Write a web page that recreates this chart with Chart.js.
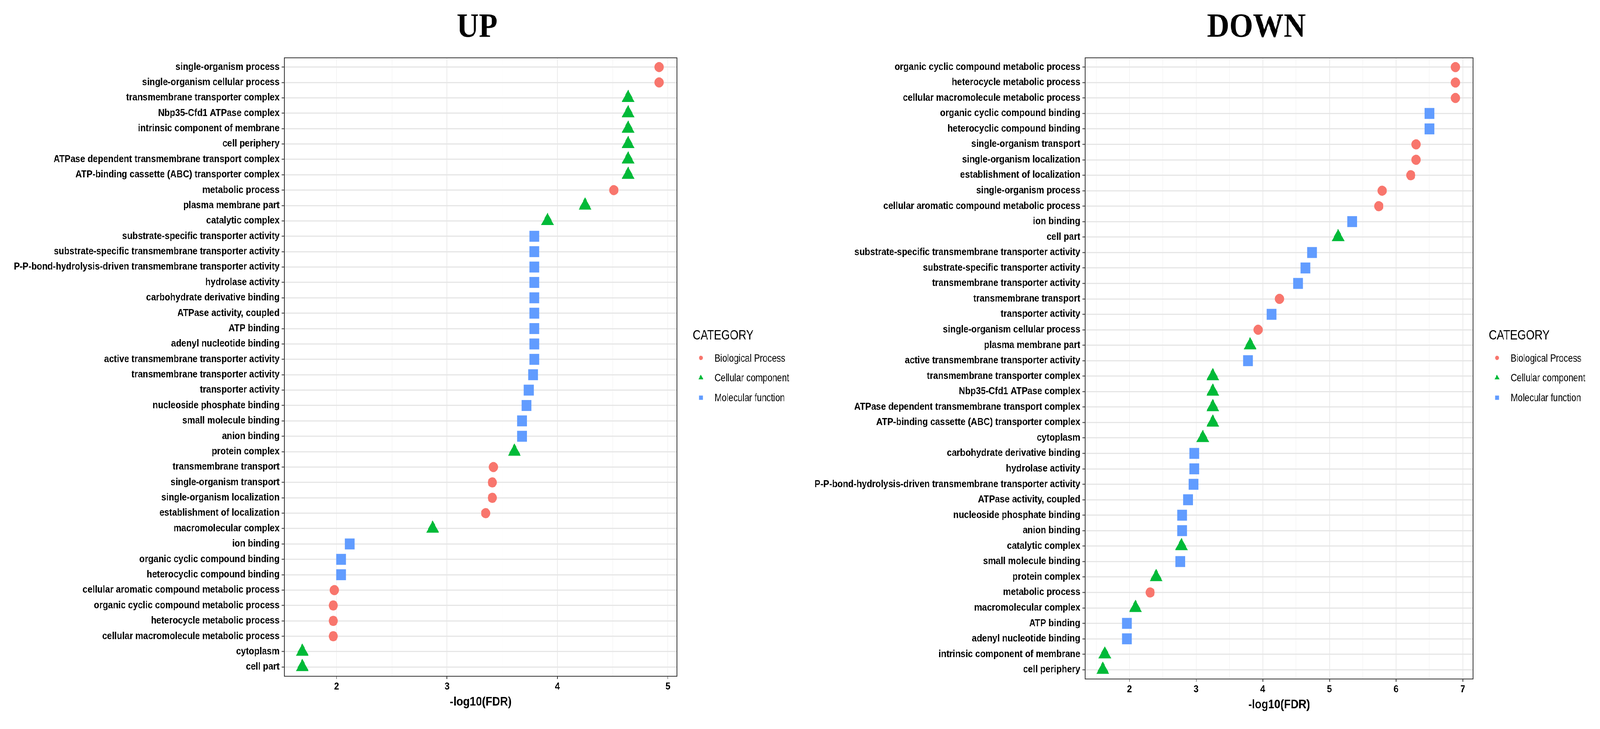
<!DOCTYPE html>
<html>
<head>
<meta charset="utf-8">
<script src="https://cdn.jsdelivr.net/npm/chart.js@4.4.1/dist/chart.umd.min.js"></script>
<style>
  html, body { margin: 0; padding: 0; background: #ffffff; overflow: hidden; }
  #wrap { position: absolute; left: 0; top: 0; width: 4550px; height: 1866px; transform-origin: 0 0; }
  #up { position: absolute; left: 0; top: 0; }
  #down { position: absolute; left: 2275px; top: 0; }
</style>
</head>
<body>
<div id="wrap">
  <canvas id="up" width="2275" height="1866"></canvas>
  <canvas id="down" width="2275" height="1866"></canvas>
</div>
<script>
// ---------------- DATA ----------------
const categoryKeys   = ['BP', 'CC', 'MF'];
const categoryLabels = ['Biological Process', 'Cellular component', 'Molecular function'];

const upTerms = [
  'single-organism process',
  'single-organism cellular process',
  'transmembrane transporter complex',
  'Nbp35-Cfd1 ATPase complex',
  'intrinsic component of membrane',
  'cell periphery',
  'ATPase dependent transmembrane transport complex',
  'ATP-binding cassette (ABC) transporter complex',
  'metabolic process',
  'plasma membrane part',
  'catalytic complex',
  'substrate-specific transporter activity',
  'substrate-specific transmembrane transporter activity',
  'P-P-bond-hydrolysis-driven transmembrane transporter activity',
  'hydrolase activity',
  'carbohydrate derivative binding',
  'ATPase activity, coupled',
  'ATP binding',
  'adenyl nucleotide binding',
  'active transmembrane transporter activity',
  'transmembrane transporter activity',
  'transporter activity',
  'nucleoside phosphate binding',
  'small molecule binding',
  'anion binding',
  'protein complex',
  'transmembrane transport',
  'single-organism transport',
  'single-organism localization',
  'establishment of localization',
  'macromolecular complex',
  'ion binding',
  'organic cyclic compound binding',
  'heterocyclic compound binding',
  'cellular aromatic compound metabolic process',
  'organic cyclic compound metabolic process',
  'heterocycle metabolic process',
  'cellular macromolecule metabolic process',
  'cytoplasm',
  'cell part'
];
const upValues = [
  4.92, 4.92, 4.64, 4.64, 4.64, 4.64, 4.64, 4.64, 4.51, 4.25,
  3.91, 3.79, 3.79, 3.79, 3.79, 3.79, 3.79, 3.79, 3.79, 3.79,
  3.78, 3.74, 3.72, 3.68, 3.68, 3.61, 3.42, 3.41, 3.41, 3.35,
  2.87, 2.12, 2.04, 2.04, 1.98, 1.97, 1.97, 1.97, 1.69, 1.69
];
const upTypes = [
  'BP','BP','CC','CC','CC','CC','CC','CC','BP','CC',
  'CC','MF','MF','MF','MF','MF','MF','MF','MF','MF',
  'MF','MF','MF','MF','MF','CC','BP','BP','BP','BP',
  'CC','MF','MF','MF','BP','BP','BP','BP','CC','CC'
];

const downTerms = [
  'organic cyclic compound metabolic process',
  'heterocycle metabolic process',
  'cellular macromolecule metabolic process',
  'organic cyclic compound binding',
  'heterocyclic compound binding',
  'single-organism transport',
  'single-organism localization',
  'establishment of localization',
  'single-organism process',
  'cellular aromatic compound metabolic process',
  'ion binding',
  'cell part',
  'substrate-specific transmembrane transporter activity',
  'substrate-specific transporter activity',
  'transmembrane transporter activity',
  'transmembrane transport',
  'transporter activity',
  'single-organism cellular process',
  'plasma membrane part',
  'active transmembrane transporter activity',
  'transmembrane transporter complex',
  'Nbp35-Cfd1 ATPase complex',
  'ATPase dependent transmembrane transport complex',
  'ATP-binding cassette (ABC) transporter complex',
  'cytoplasm',
  'carbohydrate derivative binding',
  'hydrolase activity',
  'P-P-bond-hydrolysis-driven transmembrane transporter activity',
  'ATPase activity, coupled',
  'nucleoside phosphate binding',
  'anion binding',
  'catalytic complex',
  'small molecule binding',
  'protein complex',
  'metabolic process',
  'macromolecular complex',
  'ATP binding',
  'adenyl nucleotide binding',
  'intrinsic component of membrane',
  'cell periphery'
];
const downValues = [
  6.89, 6.89, 6.89, 6.50, 6.50, 6.30, 6.30, 6.22, 5.79, 5.74,
  5.34, 5.13, 4.74, 4.64, 4.53, 4.25, 4.13, 3.93, 3.81, 3.78,
  3.25, 3.25, 3.25, 3.25, 3.10, 2.97, 2.97, 2.96, 2.88, 2.79,
  2.79, 2.78, 2.76, 2.40, 2.31, 2.09, 1.96, 1.96, 1.63, 1.60
];
const downTypes = [
  'BP','BP','BP','MF','MF','BP','BP','BP','BP','BP',
  'MF','CC','MF','MF','MF','BP','MF','BP','CC','MF',
  'CC','CC','CC','CC','CC','MF','MF','MF','MF','MF',
  'MF','CC','MF','CC','BP','CC','MF','MF','CC','CC'
];

// ---------------- FIT THE 4550px-WIDE LAYOUT INTO THE WINDOW ----------------
(function fit() {
  const f = Math.min(1, (window.innerWidth || 4550) / 4550);
  document.getElementById('wrap').style.transform = 'scaleX(' + f + ')';
})();

// ---------------- STYLE ----------------
const STYLE = {
  BP: { color: '#F8766D', shape: 'circle',   radius: 13 },
  CC: { color: '#00BA38', shape: 'triangle', radius: 21 },
  MF: { color: '#619CFF', shape: 'rect',     radius: 19.8 }
};
const SANS = '"Liberation Sans", Arial, Helvetica, sans-serif';
const SERIF = '"Liberation Serif", "Times New Roman", serif';

function isInt(v) { return Math.abs(v - Math.round(v)) < 1e-6; }

function drawSquashedText(ctx, text, x, y, font, sx) {
  ctx.save();
  ctx.translate(x, y);
  ctx.scale(sx, 1);
  ctx.font = font;
  ctx.textAlign = 'left';
  ctx.textBaseline = 'alphabetic';
  ctx.fillText(text, 0, 0);
  ctx.restore();
}

function drawSymbol(ctx, shape, color, x, y) {
  ctx.save();
  ctx.fillStyle = color;
  ctx.beginPath();
  if (shape === 'circle') {
    ctx.arc(x, y, 5.5, 0, Math.PI * 2);
  } else if (shape === 'triangle') {
    const r = 8;
    ctx.moveTo(x, y - r);
    ctx.lineTo(x + r * Math.sin(2 * Math.PI / 3), y + r / 2);
    ctx.lineTo(x - r * Math.sin(2 * Math.PI / 3), y + r / 2);
    ctx.closePath();
  } else {
    ctx.rect(x - 5.5, y - 5.5, 11, 11);
  }
  ctx.fill();
  ctx.restore();
}

const decorPlugin = {
  id: 'decor',
  afterDraw(chart, args, o) {
    const { ctx, chartArea: a } = chart;
    ctx.save();
    // panel border
    ctx.strokeStyle = '#333333';
    ctx.lineWidth = 2;
    ctx.strokeRect(a.left, a.top, a.right - a.left, a.bottom - a.top);
    // title
    ctx.fillStyle = '#000000';
    ctx.font = 'bold 87px ' + SERIF;
    ctx.textAlign = 'center';
    ctx.textBaseline = 'alphabetic';
    ctx.fillText(o.title, o.titleX, 94);
    // legend
    const lx = a.right + 45;
    ctx.fillStyle = '#000000';
    drawSquashedText(ctx, 'CATEGORY', lx, 869, '35px ' + SANS, 0.895);
    const baselines = [926, 976, 1027];
    const centers = [916, 967, 1018];
    chart.data.datasets.forEach((ds, i) => {
      drawSymbol(ctx, ds.pointStyle, ds.backgroundColor, a.right + 68, centers[i]);
      ctx.fillStyle = '#000000';
      drawSquashedText(ctx, ds.label, a.right + 107, baselines[i], '28px ' + SANS, 0.88);
    });
    ctx.restore();
  }
};

function makeChart(id, terms, values, types, g) {
  const vmin = Math.min(...values), vmax = Math.max(...values);
  const span = vmax - vmin;
  const datasets = categoryKeys.map((k, ci) => ({
    label: categoryLabels[ci],
    data: terms.map((t, i) => types[i] === k ? { x: values[i], y: i } : null).filter(Boolean),
    backgroundColor: STYLE[k].color,
    borderColor: STYLE[k].color,
    borderWidth: 0,
    pointStyle: STYLE[k].shape,
    pointRadius: STYLE[k].radius,
    pointHoverRadius: STYLE[k].radius,
    showLine: false
  }));
  return new Chart(document.getElementById(id), {
    type: 'scatter',
    data: { datasets },
    plugins: [decorPlugin],
    options: {
      responsive: false,
      animation: false,
      events: [],
      devicePixelRatio: 1,
      layout: { padding: { left: 0, top: g.top, right: g.canvasW - g.right, bottom: 0 } },
      plugins: {
        legend: { display: false },
        title: { display: false },
        tooltip: { enabled: false },
        decor: { title: g.title, titleX: g.titleX }
      },
      scales: {
        x: {
          type: 'linear',
          position: 'bottom',
          min: vmin - 0.05 * span,
          max: vmax + 0.05 * span,
          afterFit: s => { s.height = g.canvasH - g.bottom; },
          border: { display: false },
          grid: {
            color: c => isInt(c.tick.value) ? '#EBEBEB' : '#F2F2F2',
            lineWidth: c => isInt(c.tick.value) ? 2 : 1.2,
            tickColor: c => isInt(c.tick.value) ? '#333333' : 'rgba(0,0,0,0)',
            tickLength: 7,
            tickWidth: 2
          },
          ticks: {
            stepSize: 0.5,
            includeBounds: false,
            autoSkip: false,
            maxRotation: 0,
            padding: 5,
            color: '#000000',
            font: { family: SANS, size: 25, weight: 'bold' },
            callback: v => isInt(v) ? String(Math.round(v)) : ''
          },
          title: {
            display: true,
            text: '-log10(FDR)',
            color: '#000000',
            font: { family: SANS, size: 31, weight: 'bold' },
            padding: { top: 0, bottom: g.xTitlePad }
          }
        },
        y: {
          type: 'linear',
          position: 'left',
          reverse: true,
          min: -0.6,
          max: terms.length - 1 + 0.6,
          afterFit: s => { s.width = g.left; },
          border: { display: false },
          grid: {
            color: '#E6E6E6',
            lineWidth: 3,
            tickColor: '#333333',
            tickLength: 8,
            tickWidth: 2
          },
          ticks: {
            stepSize: 1,
            includeBounds: false,
            autoSkip: false,
            padding: 6,
            color: '#000000',
            font: { family: SANS, size: 25, weight: 'bold' },
            callback: v => isInt(v) ? (terms[Math.round(v)] || '') : ''
          }
        }
      }
    }
  });
}

makeChart('up', upTerms, upValues, upTypes, {
  canvasW: 2275, canvasH: 1866, left: 809, right: 1925, top: 148, bottom: 1731,
  title: 'UP', titleX: 1357, xTitlePad: 50
});
makeChart('down', downTerms, downValues, downTypes, {
  canvasW: 2275, canvasH: 1866, left: 811, right: 1914, top: 148, bottom: 1738,
  title: 'DOWN', titleX: 1298, xTitlePad: 43
});
</script>
</body>
</html>
